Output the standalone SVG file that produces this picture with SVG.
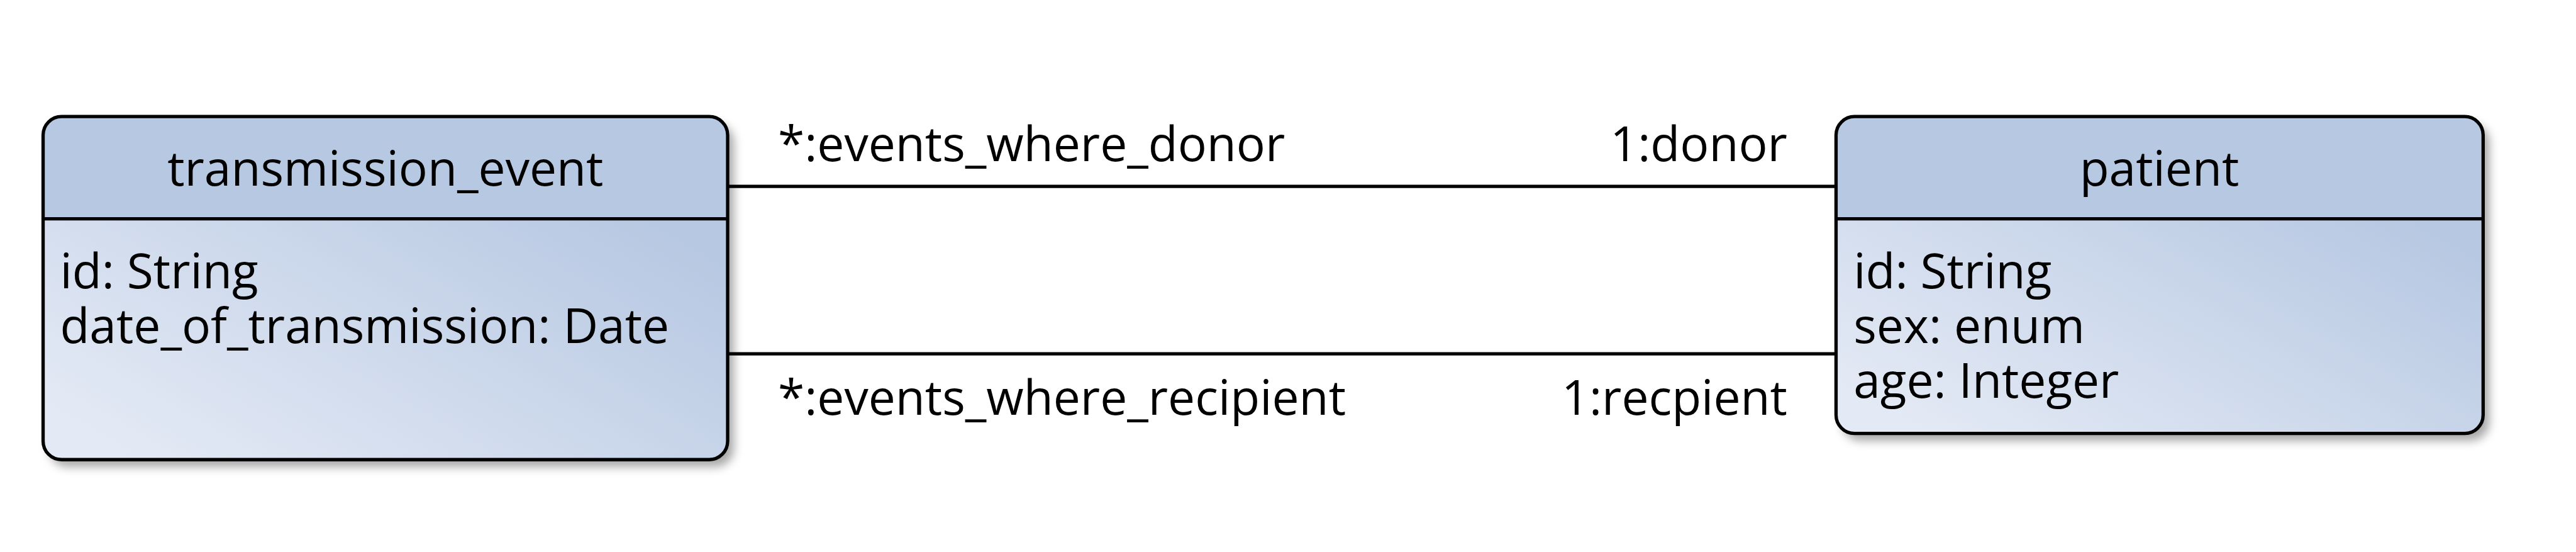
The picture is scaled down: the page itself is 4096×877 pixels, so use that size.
<svg xmlns="http://www.w3.org/2000/svg" width="4096" height="877" viewBox="0 0 4096 877">
<defs>
<linearGradient id="bodyGrad" x1="0" y1="0.8" x2="1" y2="0.2">
<stop offset="0" stop-color="#e4eaf5"/>
<stop offset="1" stop-color="#b7c8e2"/>
</linearGradient>
<filter id="shadow" x="-5%" y="-5%" width="115%" height="120%">
<feDropShadow dx="12" dy="14" stdDeviation="9" flood-color="#000" flood-opacity="0.35"/>
</filter>
<clipPath id="clipTE"><rect x="84" y="227" width="1334" height="668" rx="36"/></clipPath>
<clipPath id="clipP"><rect x="3578" y="227" width="1261" height="617" rx="36"/></clipPath>
</defs>
<style>
.outline{fill:none;stroke:#000;stroke-width:6.5}
.hdr{fill:#b7c8e2}
.body{fill:url(#bodyGrad)}
.div{stroke:#000;stroke-width:6.5}
.txt{font-family:"Open Sans","Noto Sans","DejaVu Sans",sans-serif;font-size:94px;fill:#000}
.conn{stroke:#000;stroke-width:6.5;fill:none}
</style>
<rect width="4096" height="877" fill="#fff"/>
<g transform="scale(0.81594)">
<g id="transmission_event">
<rect x="84" y="227" width="1334" height="668" rx="36" fill="#b7c8e2" filter="url(#shadow)"/>
<g clip-path="url(#clipTE)">
<rect class="hdr" x="84" y="227" width="1334" height="199"/>
<rect class="body" x="84" y="426" width="1334" height="469"/>
</g>
<line class="div" x1="84" y1="426" x2="1418" y2="426"/>
<rect class="outline" x="84" y="227" width="1334" height="668" rx="36"/>
<text class="txt" x="751" y="361" text-anchor="middle">transmission_event</text>
<text class="txt" x="117" y="561">id: String</text>
<text class="txt" x="117" y="668">date_of_transmission: Date</text>
</g>
<g id="patient">
<rect x="3578" y="227" width="1261" height="617" rx="36" fill="#b7c8e2" filter="url(#shadow)"/>
<g clip-path="url(#clipP)">
<rect class="hdr" x="3578" y="227" width="1261" height="199"/>
<rect class="body" x="3578" y="426" width="1261" height="418"/>
</g>
<line class="div" x1="3578" y1="426" x2="4839" y2="426"/>
<rect class="outline" x="3578" y="227" width="1261" height="617" rx="36"/>
<text class="txt" x="4208" y="361" text-anchor="middle">patient</text>
<text class="txt" x="3612" y="561">id: String</text>
<text class="txt" x="3612" y="668">sex: enum</text>
<text class="txt" x="3612" y="775">age: Integer</text>
</g>
<g id="connectors">
<line class="conn" x1="1418" y1="363" x2="3578" y2="363"/>
<line class="conn" x1="1418" y1="689" x2="3578" y2="689"/>
<text class="txt" x="1516" y="314">*:events_where_donor</text>
<text class="txt" x="3483" y="314" text-anchor="end">1:donor</text>
<text class="txt" x="1516" y="808">*:events_where_recipient</text>
<text class="txt" x="3483" y="808" text-anchor="end">1:recpient</text>
</g>
</g>
</svg>
